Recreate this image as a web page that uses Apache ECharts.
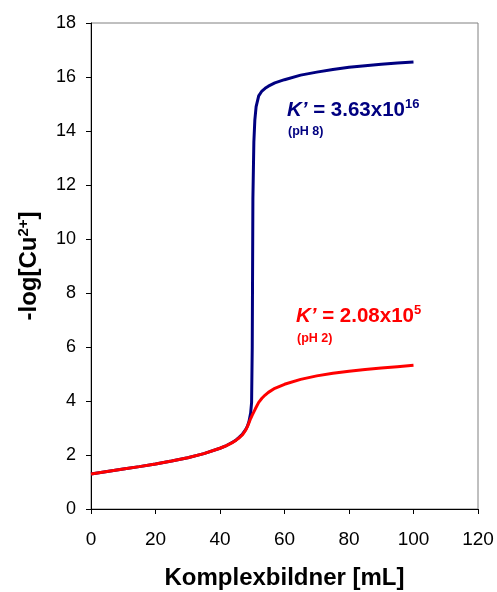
<!DOCTYPE html>
<html>
<head>
<meta charset="utf-8">
<script src="https://cdn.jsdelivr.net/npm/echarts@6/dist/echarts.min.js"></script>
<style>
    html, body { margin: 0; padding: 0; background: #fff; }
    #main { width: 497px; height: 592px; }
</style>
</head>
<body>
<div id="main"></div>
<script>
// Zugabe Komplexbildner (mL) und -log[Cu2+] bei pH 8
var volumePH8 = [0, 5, 10, 15, 20, 25, 30, 35, 40, 42, 44, 45, 46, 47, 48, 48.5, 49, 49.5, 49.8, 50, 50.2, 50.5, 50.8, 51.2, 52, 53, 54, 55, 57, 60, 65, 70, 75, 80, 85, 90, 95, 100];
var pCuPH8 = [1.30, 1.39, 1.48, 1.57, 1.67, 1.78, 1.90, 2.05, 2.25, 2.35, 2.48, 2.56, 2.66, 2.78, 2.95, 3.07, 3.25, 3.55, 3.95, 6.0, 11.5, 13.6, 14.4, 14.9, 15.3, 15.48, 15.58, 15.66, 15.78, 15.9, 16.07, 16.18, 16.28, 16.36, 16.42, 16.47, 16.52, 16.56];
// Zugabe Komplexbildner (mL) und -log[Cu2+] bei pH 2
var volumePH2 = [0, 5, 10, 15, 20, 25, 30, 35, 40, 42, 44, 45, 46, 47, 48, 48.5, 49, 49.5, 50, 50.5, 51, 52, 53, 54, 55, 57, 60, 65, 70, 75, 80, 85, 90, 95, 100];
var pCuPH2 = [1.30, 1.39, 1.48, 1.57, 1.67, 1.78, 1.90, 2.05, 2.25, 2.35, 2.47, 2.55, 2.64, 2.75, 2.93, 3.05, 3.2, 3.35, 3.48, 3.6, 3.72, 3.95, 4.1, 4.22, 4.32, 4.47, 4.62, 4.8, 4.93, 5.03, 5.1, 5.17, 5.22, 5.27, 5.32];
var xTicks = [0, 20, 40, 60, 80, 100, 120];
var yTicks = [0, 2, 4, 6, 8, 10, 12, 14, 16, 18];

var FONT = 'Arial, "Liberation Sans", sans-serif';

function pairs(xs, ys) {
    var out = [];
    for (var i = 0; i < xs.length; i++) {
        out.push([xs[i], ys[i]]);
    }
    return out;
}

var myChart = echarts.init(document.getElementById('main'));

var option = {
    animation: false,
    backgroundColor: '#fff',
    grid: {
        left: 91,
        right: 19,
        top: 23,
        bottom: 83,
        outerBoundsMode: 'none',
        show: true,
        borderColor: '#808080',
        borderWidth: 1
    },
    xAxis: {
        type: 'value',
        min: xTicks[0],
        max: xTicks[xTicks.length - 1],
        interval: 20,
        name: 'Komplexbildner [mL]',
        nameLocation: 'middle',
        nameGap: 57,
        nameTextStyle: { fontFamily: FONT, fontSize: 24, fontWeight: 'bold', color: '#000' },
        axisLine: { show: true, lineStyle: { color: '#000', width: 1 } },
        axisTick: { show: true, inside: false, length: 5, lineStyle: { color: '#000' } },
        axisLabel: { fontFamily: FONT, fontSize: 19, color: '#000', margin: 21 },
        splitLine: { show: false }
    },
    yAxis: {
        type: 'value',
        min: yTicks[0],
        max: yTicks[yTicks.length - 1],
        interval: 2,
        name: '{a|-log[Cu}{s|2+}{a|]}',
        nameLocation: 'middle',
        nameGap: 49,
        nameTextStyle: {
            fontFamily: FONT,
            color: '#000',
            rich: {
                a: { fontFamily: FONT, fontSize: 24, fontWeight: 'bold', color: '#000', lineHeight: 26 },
                s: { fontFamily: FONT, fontSize: 15, fontWeight: 'bold', color: '#000', verticalAlign: 'top', lineHeight: 26 }
            }
        },
        axisLine: { show: true, lineStyle: { color: '#000', width: 1 } },
        axisTick: { show: true, inside: false, length: 5, lineStyle: { color: '#000' } },
        axisLabel: { fontFamily: FONT, fontSize: 18, color: '#000', margin: 15 },
        splitLine: { show: false }
    },
    series: [
        {
            name: 'pH 8',
            type: 'line',
            data: pairs(volumePH8, pCuPH8),
            showSymbol: false,
            symbol: 'none',
            lineStyle: { color: '#000080', width: 3 },
            z: 2
        },
        {
            name: 'pH 2',
            type: 'line',
            data: pairs(volumePH2, pCuPH2),
            showSymbol: false,
            symbol: 'none',
            lineStyle: { color: '#ff0000', width: 3 },
            z: 3
        }
    ],
    graphic: [
        {
            type: 'text',
            left: 287,
            top: 98,
            style: {
                text: '{k|K’}{t| = 3.63x10}{s|16}',
                rich: {
                    k: { fontFamily: FONT, fontSize: 20.5, fontWeight: 'bold', fontStyle: 'italic', fill: '#000080', lineHeight: 24 },
                    t: { fontFamily: FONT, fontSize: 20.5, fontWeight: 'bold', fill: '#000080', lineHeight: 24 },
                    s: { fontFamily: FONT, fontSize: 13, fontWeight: 'bold', fill: '#000080', verticalAlign: 'top', lineHeight: 24 }
                }
            }
        },
        {
            type: 'text',
            left: 288,
            top: 125,
            style: { text: '(pH 8)', fontFamily: FONT, fontSize: 12.5, fontWeight: 'bold', fill: '#000080' }
        },
        {
            type: 'text',
            left: 296,
            top: 304,
            style: {
                text: '{k|K’}{t| = 2.08x10}{s|5}',
                rich: {
                    k: { fontFamily: FONT, fontSize: 20.5, fontWeight: 'bold', fontStyle: 'italic', fill: '#ff0000', lineHeight: 24 },
                    t: { fontFamily: FONT, fontSize: 20.5, fontWeight: 'bold', fill: '#ff0000', lineHeight: 24 },
                    s: { fontFamily: FONT, fontSize: 13, fontWeight: 'bold', fill: '#ff0000', verticalAlign: 'top', lineHeight: 24 }
                }
            }
        },
        {
            type: 'text',
            left: 297,
            top: 332,
            style: { text: '(pH 2)', fontFamily: FONT, fontSize: 12.5, fontWeight: 'bold', fill: '#ff0000' }
        }
    ]
};

myChart.setOption(option);

window.addEventListener('resize', function () {
    myChart.resize();
});
</script>
</body>
</html>
